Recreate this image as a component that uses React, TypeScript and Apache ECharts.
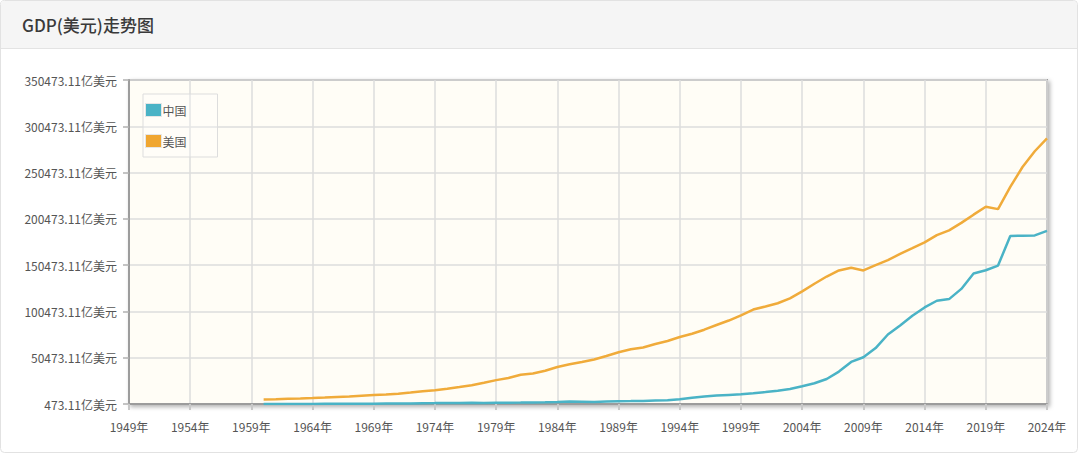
import React, { useEffect, useRef } from "react";
import * as echarts from "echarts";

const YEARS: string[] = [
  "1949","1950","1951","1952","1953","1954","1955","1956","1957","1958","1959",
  "1960","1961","1962","1963","1964","1965","1966","1967","1968","1969",
  "1970","1971","1972","1973","1974","1975","1976","1977","1978","1979",
  "1980","1981","1982","1983","1984","1985","1986","1987","1988","1989",
  "1990","1991","1992","1993","1994","1995","1996","1997","1998","1999",
  "2000","2001","2002","2003","2004","2005","2006","2007","2008","2009",
  "2010","2011","2012","2013","2014","2015","2016","2017","2018","2019",
  "2020","2021","2022","2023","2024",
];

// 1949-1959: no data
const EMPTY_1949_1959: (number | null)[] = [null, null, null, null, null, null, null, null, null, null, null];

// 亿美元, 1960-2024
const CHINA: number[] = [
  597, 501, 472, 507, 597, 704, 767, 729, 709, 797,
  926, 998, 1137, 1385, 1442, 1634, 1539, 1749, 1495, 1783,
  1911, 1959, 2051, 2307, 2600, 3095, 3008, 2730, 3124, 3478,
  3609, 3834, 4269, 4447, 5643, 7345, 8638, 9616, 10290, 10940,
  12114, 13394, 14706, 16603, 19554, 22860, 27521, 35503, 45943, 51017,
  60872, 75515, 85322, 95704, 104757, 112000, 113800, 124800, 141500, 145000,
  150000, 182000, 182300, 182600, 187500,
];

const USA: number[] = [
  5433, 5633, 6051, 6386, 6858, 7437, 8150, 8617, 9425, 10199,
  10733, 11649, 12791, 14254, 15452, 16849, 18734, 20818, 23516, 26273,
  28573, 32070, 33438, 36340, 40376, 43389, 45796, 48552, 52364, 56416,
  59631, 61581, 65203, 68586, 72872, 76397, 80731, 85776, 90628, 96312,
  102510, 105819, 109291, 114565, 122172, 130392, 138156, 144742, 147699, 144781,
  150490, 155997, 162540, 168807, 175081, 182950, 188049, 196121, 205000, 213500,
  211000, 235000, 256500, 273500, 287500,
];

const AXIS_BASE = 473.11; // bottom of the value axis
const AXIS_SPAN = 350000;
const AXIS_STEP = 50000;

const SERIES_NAMES = ["中国", "美国"];
const TITLE = "GDP(美元)走势图";

const FONT = "'Noto Sans CJK SC', 'Noto Sans', sans-serif";

export default function App() {
  const ref = useRef<HTMLDivElement>(null);

  useEffect(() => {
    document.body.style.margin = "0";
    if (!ref.current) return;
    const chart = echarts.init(ref.current, undefined, { renderer: "svg" });

    const toAxis = (arr: (number | null)[]) =>
      arr.map((v) => (v == null ? null : v - AXIS_BASE));

    const chinaData = toAxis([...EMPTY_1949_1959, ...CHINA]);
    const usaData = toAxis([...EMPTY_1949_1959, ...USA]);

    chart.setOption({
      animation: false,
      backgroundColor: "transparent",
      graphic: [
        {
          type: "rect",
          shape: { x: 0.5, y: 0.5, width: 1077, height: 452, r: 4 },
          style: { fill: "#ffffff", stroke: "#e2e2e2", lineWidth: 1 },
          z: -10,
          silent: true,
        },
        {
          type: "rect",
          shape: { x: 1, y: 1, width: 1076, height: 47, r: [4, 4, 0, 0] },
          style: { fill: "#f5f5f5" },
          z: -9,
          silent: true,
        },
        {
          type: "line",
          shape: { x1: 1, y1: 48.5, x2: 1077, y2: 48.5 },
          style: { stroke: "#e3e3e3", lineWidth: 1 },
          z: -8,
          silent: true,
        },
      ],
      title: {
        text: TITLE,
        left: 17,
        top: 11,
        textStyle: {
          fontSize: 17,
          fontWeight: 500,
          color: "#3a3a3a",
          fontFamily: FONT,
        },
      },
      legend: {
        show: true,
        orient: "vertical",
        left: 143,
        top: 94,
        padding: [9, 31, 9, 2],
        itemGap: 17,
        itemWidth: 16,
        itemHeight: 13,
        icon: "rect",
        borderColor: "#dddddd",
        borderWidth: 1,
        backgroundColor: "rgba(255,255,255,0.25)",
        textStyle: { color: "#555", fontSize: 12, fontFamily: FONT, padding: [0, 0, 0, -4] },
        data: SERIES_NAMES.map((n) => ({ name: n, itemStyle: { borderColor: "#e6e6e6", borderWidth: 1 } })),
      },
      grid: {
        left: 129,
        right: 33,
        top: 80,
        bottom: 51,
        show: true,
        backgroundColor: "#fffdf6",
        borderColor: "#9c9c9c",
        borderWidth: 2,
        shadowColor: "rgba(0,0,0,0.3)",
        shadowBlur: 4,
        shadowOffsetX: 2,
        shadowOffsetY: 2,
      },
      xAxis: {
        type: "category",
        data: YEARS,
        boundaryGap: false,
        axisLine: { lineStyle: { color: "#9c9c9c", width: 2 } },
        axisTick: { show: true, interval: 4, length: 6, lineStyle: { color: "#c8c8c8", width: 2 } },
        axisLabel: {
          interval: 4,
          color: "#555",
          fontSize: 12,
          fontFamily: FONT,
          margin: 16,
          formatter: (v: string) => `${v}年`,
        },
        splitLine: { show: true, interval: 4, lineStyle: { color: "#dcdcdc", width: 1.5 } },
      },
      yAxis: {
        type: "value",
        min: 0,
        max: AXIS_SPAN,
        interval: AXIS_STEP,
        axisLine: { show: true, lineStyle: { color: "#9c9c9c", width: 2 } },
        axisTick: { show: true, length: 6, lineStyle: { color: "#b0b0b0", width: 1.5 } },
        axisLabel: {
          color: "#555",
          fontSize: 12,
          fontFamily: FONT,
          margin: 12,
          formatter: (v: number) => `${(v + AXIS_BASE).toFixed(2)}亿美元`,
        },
        splitLine: { show: true, lineStyle: { color: "#dcdcdc", width: 1.5 } },
      },
      series: [
        {
          name: SERIES_NAMES[0],
          type: "line",
          data: chinaData,
          symbol: "none",
          color: "#4ab3c6",
          lineStyle: { width: 2.5, color: "#4ab3c6" },
          connectNulls: false,
        },
        {
          name: SERIES_NAMES[1],
          type: "line",
          data: usaData,
          symbol: "none",
          color: "#f0a630",
          lineStyle: { width: 2.5, color: "#f0ab3a" },
          connectNulls: false,
        },
      ],
    });

    return () => chart.dispose();
  }, []);

  return (
    <div
      ref={ref}
      style={{ position: "absolute", left: 0, top: 0, width: 1080, height: 455 }}
    />
  );
}
